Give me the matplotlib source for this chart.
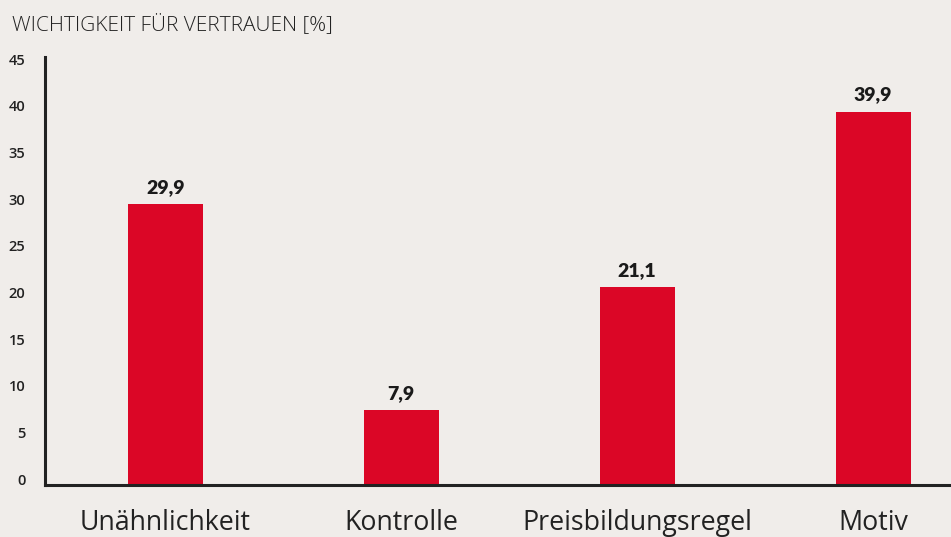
import matplotlib.pyplot as plt
from matplotlib.transforms import ScaledTranslation

categories = ["Unähnlichkeit", "Kontrolle", "Preisbildungsregel", "Motiv"]
values = [30.1, 8.0, 21.2, 40.0]
value_labels = ["29,9", "7,9", "21,1", "39,9"]
yticks = [0, 5, 10, 15, 20, 25, 30, 35, 40, 45]

bg = "#f0edea"
red = "#db0626"
dark = "#222222"

plt.rcParams["font.family"] = ["Open Sans", "DejaVu Sans"]

fig = plt.figure(figsize=(9.51, 5.37), dpi=100, facecolor=bg)
ax = fig.add_axes([0.0473, 0.0968, 0.9527, 0.7976])
ax.set_facecolor(bg)

x = list(range(len(categories)))
ax.bar(x, values, width=0.318, color=red, zorder=2)

for xi, v, lab in zip(x, values, value_labels):
    ax.annotate(lab, (xi, v), xytext=(0, 6), textcoords="offset points",
                ha="center", va="bottom", fontsize=14, fontweight="heavy",
                family=["Lato", "DejaVu Sans"], color="#1a1a1a")

ax.set_xlim(-0.51, 3.33)
ax.set_ylim(0, 45.9)
ax.set_yticks(yticks)
ax.set_yticklabels([str(t) for t in yticks], fontsize=10.5, color=dark, fontweight="semibold")
ax.set_xticks(x)
ax.set_xticklabels(categories, fontsize=19.3, color=dark)
ax.tick_params(axis="y", length=0, pad=14)
ax.tick_params(axis="x", length=0, pad=17)
shift = ScaledTranslation(0, 6 / 100, fig.dpi_scale_trans)
for lbl in ax.get_yticklabels():
    lbl.set_transform(lbl.get_transform() + shift)

for s in ["top", "right"]:
    ax.spines[s].set_visible(False)
for s in ["left", "bottom"]:
    ax.spines[s].set_linewidth(2.2)
    ax.spines[s].set_color(dark)

fig.text(12 / 951, 1 - 25 / 537, "WICHTIGKEIT FÜR VERTRAUEN [%]", fontsize=15,
         fontweight="light", color=dark, ha="left", va="center")

fig.savefig("out.png", dpi=100, facecolor=bg)
